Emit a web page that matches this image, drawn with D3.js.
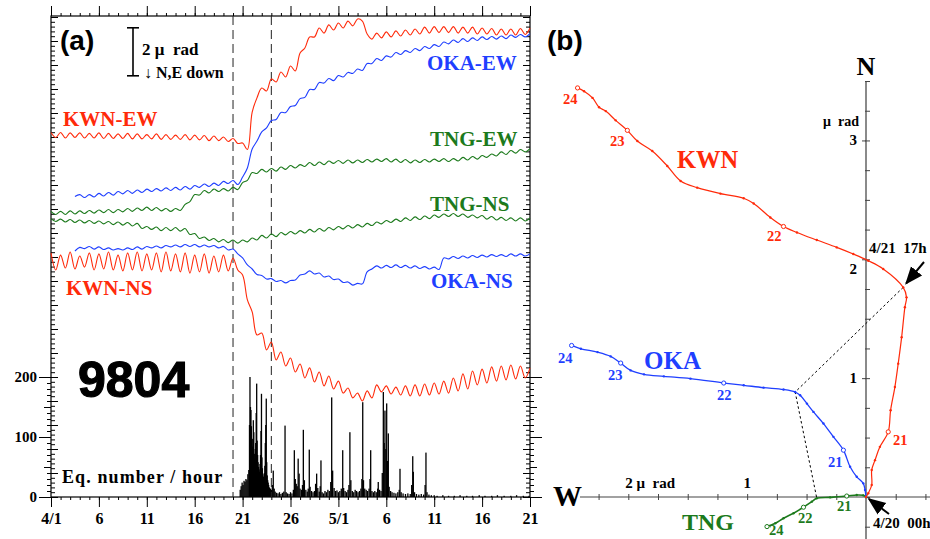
<!DOCTYPE html>
<html>
<head>
<meta charset="utf-8">
<script src="https://cdn.jsdelivr.net/npm/d3@7"></script>
<style>
  body { margin: 0; background: #fff; }
  svg { display: block; }
  text { white-space: pre; }
</style>
</head>
<body>
<svg id="chart" width="930" height="539"></svg>
<script>
// ---------- (a) tilt records, one sample every half day from 4/1 00h (μrad) ----------
const sampleStepDays = 0.5;

const kwnEW = [
  15.19, 14.98, 15.19, 14.96, 15.17, 14.98, 15.17, 14.96, 15.15, 14.96,
  15.17, 14.94, 15.15, 14.94, 15.13, 14.94, 15.15, 14.92, 15.13, 14.92,
  15.10, 14.92, 15.13, 14.90, 15.10, 14.90, 15.08, 14.90, 15.10, 14.88,
  15.08, 14.88, 15.06, 14.85, 15.04, 14.85, 15.00, 14.81, 14.94, 14.73,
  14.75, 14.48, 16.04, 16.63, 17.04, 16.92, 17.42, 17.29, 17.71, 17.50,
  17.96, 17.75, 18.50, 18.71, 19.17, 19.17, 19.54, 19.33, 19.67, 19.46,
  19.75, 19.54, 19.83, 19.63, 19.92, 19.83, 19.29, 19.08, 19.33, 19.13,
  19.38, 19.17, 19.42, 19.21, 19.46, 19.25, 19.50, 19.29, 19.58, 19.33,
  19.60, 19.35, 19.60, 19.35, 19.60, 19.33, 19.58, 19.33, 19.58, 19.29,
  19.54, 19.29, 19.52, 19.25, 19.50, 19.25, 19.50, 19.25, 19.52, 19.27,
  19.54
];

const kwnNS = [
  10.17, 9.46, 10.08, 9.54, 10.21, 9.50, 10.04, 9.58, 10.17, 9.46,
  10.13, 9.50, 10.21, 9.46, 10.08, 9.42, 10.17, 9.46, 10.21, 9.42,
  10.13, 9.46, 10.17, 9.38, 10.21, 9.42, 10.13, 9.38, 10.17, 9.33,
  10.08, 9.38, 10.13, 9.33, 10.04, 9.38, 10.08, 9.42, 9.96, 9.46,
  9.25, 8.21, 7.71, 6.75, 6.83, 6.13, 6.46, 5.71, 6.04, 5.46,
  5.79, 5.21, 5.54, 4.96, 5.38, 4.79, 5.21, 4.63, 5.04, 4.50,
  4.83, 4.33, 4.54, 4.13, 4.33, 4.00, 4.42, 4.13, 4.67, 4.38,
  4.63, 4.29, 4.58, 4.25, 4.63, 4.21, 4.67, 4.21, 4.71, 4.25,
  4.75, 4.29, 4.83, 4.33, 4.96, 4.42, 5.13, 4.50, 5.25, 4.67,
  5.33, 4.75, 5.42, 4.83, 5.46, 4.88, 5.50, 4.92, 5.46, 4.96,
  5.38
];

const okaEW = [
  null, null, null, null, null, 12.52, 12.60, 12.48, 12.60, 12.50,
  12.65, 12.54, 12.69, 12.58, 12.73, 12.63, 12.77, 12.65, 12.79, 12.69,
  12.83, 12.73, 12.85, 12.75, 12.88, 12.77, 12.90, 12.79, 12.94, 12.83,
  12.98, 12.90, 13.04, 12.94, 13.08, 12.98, 13.15, 13.06, 13.19, 13.02,
  13.33, 13.71, 14.50, 14.83, 15.21, 15.38, 15.69, 15.73, 16.02, 16.02,
  16.27, 16.31, 16.60, 16.65, 16.98, 16.98, 17.27, 17.25, 17.44, 17.35,
  17.56, 17.50, 17.69, 17.65, 17.83, 17.77, 18.06, 18.06, 18.27, 18.19,
  18.38, 18.33, 18.52, 18.44, 18.60, 18.52, 18.69, 18.60, 18.77, 18.69,
  18.85, 18.77, 18.96, 18.88, 19.04, 18.94, 19.10, 18.98, 19.13, 19.02,
  19.17, 19.06, 19.19, 19.08, 19.21, 19.10, 19.25, 19.15, 19.27, 19.17,
  19.31
];

const okaNS = [
  null, null, null, null, null, 10.25, 10.40, 10.35, 10.44, 10.33,
  10.42, 10.31, 10.38, 10.29, 10.35, 10.29, 10.38, 10.31, 10.42, 10.33,
  10.44, 10.38, 10.46, 10.38, 10.48, 10.42, 10.50, 10.42, 10.52, 10.44,
  10.52, 10.42, 10.50, 10.42, 10.48, 10.38, 10.44, 10.29, 10.33, 10.13,
  9.96, 9.67, 9.50, 9.27, 9.23, 9.08, 9.10, 8.98, 9.02, 8.92,
  9.02, 9.04, 9.25, 9.29, 9.42, 9.29, 9.33, 9.17, 9.21, 9.06,
  9.08, 8.94, 8.96, 8.83, 8.90, 8.88, 9.38, 9.50, 9.63, 9.54,
  9.65, 9.56, 9.67, 9.56, 9.65, 9.54, 9.63, 9.52, 9.60, 9.50,
  9.58, 9.48, 9.96, 9.92, 10.02, 9.94, 10.04, 9.96, 10.06, 9.98,
  10.08, 10.00, 10.10, 10.02, 10.10, 10.02, 10.13, 10.04, 10.13, 10.04,
  10.13
];

const tngEW = [
  11.90, 11.77, 11.90, 11.77, 11.92, 11.79, 11.92, 11.81, 11.94, 11.83,
  11.96, 11.85, 11.98, 11.85, 11.98, 11.88, 12.02, 11.90, 12.04, 11.94,
  12.08, 11.94, 12.06, 11.92, 12.02, 11.90, 12.02, 11.94, 12.19, 12.31,
  12.60, 12.58, 12.77, 12.67, 12.83, 12.73, 12.85, 12.75, 12.90, 12.81,
  13.10, 13.19, 13.52, 13.48, 13.65, 13.54, 13.69, 13.58, 13.75, 13.65,
  13.81, 13.71, 13.85, 13.77, 13.94, 13.81, 13.96, 13.85, 14.00, 13.90,
  14.02, 13.90, 14.04, 13.92, 14.04, 13.94, 14.06, 13.96, 14.08, 13.98,
  14.10, 13.96, 14.08, 13.94, 14.06, 13.92, 14.04, 13.94, 14.06, 13.96,
  14.08, 13.98, 14.10, 13.98, 14.10, 14.00, 14.15, 14.04, 14.19, 14.08,
  14.23, 14.15, 14.29, 14.21, 14.38, 14.27, 14.44, 14.33, 14.48, 14.38,
  14.52
];

const tngNS = [
  11.60, 11.48, 11.58, 11.46, 11.56, 11.44, 11.54, 11.42, 11.52, 11.40,
  11.50, 11.38, 11.48, 11.35, 11.46, 11.33, 11.44, 11.29, 11.40, 11.19,
  11.27, 11.15, 11.25, 11.10, 11.23, 11.10, 11.23, 11.08, 11.19, 10.94,
  10.98, 10.77, 10.83, 10.69, 10.77, 10.63, 10.73, 10.60, 10.71, 10.58,
  10.71, 10.63, 10.79, 10.71, 10.90, 10.79, 10.96, 10.85, 11.02, 10.92,
  11.06, 10.96, 11.10, 11.00, 11.15, 11.04, 11.19, 11.08, 11.23, 11.13,
  11.27, 11.17, 11.31, 11.21, 11.35, 11.25, 11.40, 11.31, 11.46, 11.38,
  11.52, 11.44, 11.58, 11.48, 11.63, 11.52, 11.67, 11.56, 11.71, 11.60,
  11.75, 11.65, 11.79, 11.69, 11.81, 11.69, 11.79, 11.65, 11.75, 11.63,
  11.73, 11.58, 11.69, 11.54, 11.65, 11.52, 11.63, 11.50, 11.63, 11.50,
  11.63
];

// earthquake count per hour (time in days since 4/1 00h)
const eqDay = [
  19.75, 19.85, 19.95, 20.05, 20.15, 20.25, 20.35, 20.45, 20.55, 20.65,
  20.72, 20.77, 20.82, 20.87, 20.92, 20.97, 21.02, 21.07, 21.12, 21.17,
  21.22, 21.27, 21.32, 21.37, 21.42, 21.47, 21.52, 21.57, 21.62, 21.67,
  21.72, 21.77, 21.82, 21.87, 21.92, 21.97, 22.02, 22.07, 22.12, 22.17,
  22.22, 22.27, 22.32, 22.37, 22.42, 22.47, 22.52, 22.57, 22.62, 22.67,
  22.72, 22.8, 22.9, 23.0, 23.1, 23.2, 23.3, 23.4, 23.55, 23.7,
  23.85, 24.0, 24.15, 24.3, 24.43, 24.55, 24.7, 24.85, 25.0, 25.15,
  25.3, 25.4, 25.5, 25.6, 25.7, 25.8, 25.9, 26.0, 26.15, 26.25,
  26.34, 26.45, 26.6, 26.75, 26.85, 26.96, 27.05, 27.2, 27.35, 27.5,
  27.62, 27.73, 27.85, 28.0, 28.1, 28.18, 28.3, 28.45, 28.6, 28.75,
  28.9, 29.05, 29.2, 29.3, 29.4, 29.55, 29.7, 29.85, 30.0, 30.15,
  30.3, 30.45, 30.55, 30.7, 30.85, 31.0, 31.1, 31.2, 31.3, 31.45,
  31.6, 31.75, 31.9, 32.05, 32.2, 32.35, 32.45, 32.54, 32.62, 32.75,
  32.9, 33.05, 33.2, 33.3, 33.37, 33.5, 33.65, 33.8, 33.95, 34.1,
  34.16, 34.3, 34.45, 34.58, 34.69, 34.78, 34.86, 34.95, 35.04, 35.12,
  35.21, 35.3, 35.45, 35.6, 35.8, 36.0, 36.2, 36.35, 36.43, 36.55,
  36.75, 37.0, 37.25, 37.5, 37.65, 37.76, 37.82, 37.95, 38.15, 38.4,
  38.65, 38.9, 39.05, 39.14, 39.25, 39.45, 39.7, 40.0, 40.3, 40.9,
  41.5, 42.1, 42.7, 43.4, 44.0, 44.7, 45.3, 46.0, 46.6, 47.3,
  48.0, 48.6, 49.3, 49.9
];
const eqCount = [
  12, 18, 24, 20, 27, 25, 30, 28, 38, 45,
  120, 200, 150, 145, 118, 96, 84, 97, 128, 108,
  72, 64, 80, 90, 140, 189, 94, 70, 58, 50,
  46, 42, 55, 70, 110, 172, 66, 48, 38, 34,
  30, 40, 52, 90, 120, 164, 58, 36, 28, 24,
  20, 16, 14, 12, 20, 44, 14, 9, 7, 6,
  8, 5, 7, 9, 119, 8, 6, 5, 8, 6,
  12, 78, 30, 22, 18, 64, 39, 14, 12, 20,
  112, 28, 12, 9, 14, 79, 17, 10, 8, 10,
  22, 39, 15, 9, 18, 61, 8, 6, 10, 8,
  12, 10, 25, 166, 44, 15, 10, 11, 8, 10,
  14, 78, 15, 10, 8, 12, 20, 108, 28, 10,
  8, 12, 10, 8, 10, 14, 30, 158, 28, 14,
  12, 10, 14, 30, 78, 10, 8, 10, 8, 14,
  25, 12, 10, 40, 175, 90, 144, 80, 156, 60,
  106, 17, 10, 8, 7, 6, 8, 12, 47, 8,
  6, 5, 6, 5, 20, 68, 42, 8, 5, 4,
  5, 4, 20, 74, 8, 4, 3, 3, 2, 3,
  2, 2, 3, 2, 2, 3, 2, 2, 3, 2,
  2, 3, 2, 2
];

const xTickDays = [0, 5, 10, 15, 20, 25, 30, 35, 40, 45, 50];
const xTickLabels = ["4/1", "6", "11", "16", "21", "26", "5/1", "6", "11", "16", "21"];
const countTicks = [0, 100, 200];
const hodogramSpanDays = [19, 23];   // 4/20 00h and 4/24 00h

// ---------- (b) tilt vector paths from 4/20 00h (μrad, westward / northward) ----------
const kwnWest = [0, -0.019, -0.048, -0.048, -0.076, -0.117, -0.187, -0.207, -0.243, -0.271,
  -0.300, -0.327, -0.341, -0.313, -0.145, -0.019, 0.107, 0.246, 0.414, 0.581,
  0.694, 0.805, 0.945, 1.029, 1.225, 1.420, 1.560, 1.672, 1.798, 1.924,
  2.008, 2.106, 2.190, 2.246, 2.301, 2.372, 2.427];
const kwnNorth = [0, 0.031, 0.101, 0.227, 0.310, 0.422, 0.548, 0.730, 0.925, 1.122,
  1.345, 1.596, 1.680, 1.764, 1.919, 1.988, 2.044, 2.100, 2.162, 2.226,
  2.276, 2.352, 2.469, 2.514, 2.553, 2.603, 2.659, 2.785, 2.911, 2.995,
  3.085, 3.169, 3.247, 3.279, 3.358, 3.414, 3.442];
const okaWest = [0, 0.008, 0.023, 0.078, 0.134, 0.190, 0.274, 0.358, 0.442, 0.497,
  0.554, 0.596, 0.694, 0.862, 1.029, 1.197, 1.477, 1.701, 1.868, 1.980,
  2.064, 2.148, 2.259, 2.399, 2.477];
const okaNorth = [0, 0.059, 0.115, 0.170, 0.254, 0.394, 0.506, 0.618, 0.716, 0.786,
  0.856, 0.883, 0.904, 0.920, 0.940, 0.959, 0.996, 1.015, 1.032, 1.065,
  1.127, 1.183, 1.219, 1.247, 1.275];
const tngWest = [0, 0.023, 0.078, 0.162, 0.302, 0.414, 0.456, 0.526, 0.610, 0.694, 0.763, 0.833];
const tngNorth = [0, 0.014, 0.017, 0.008, -0.003, -0.011, -0.039, -0.086, -0.137, -0.179, -0.221, -0.249];

// sample index of each day mark (21, 22, 23, 24) and of 4/21 17h
const dayMarks = ["21", "22", "23", "24"];
const kwnMarkIdx = [6, 20, 30, 36];
const okaMarkIdx = [5, 15, 20, 24];
const tngMarkIdx = [3, 7, null, 11];
const turnIdx = { kwn: 13, oka: 11, tng: 5 };

// ---------- drawing ----------
const SERIF = '"Liberation Serif","Times New Roman",serif';
const SANS = '"Liberation Sans",Arial,sans-serif';
const RED = "#ff2a0a", BLUE = "#1f3fff", GREEN = "#1c7a1c";

const svg = d3.select("#chart");
svg.append("defs").append("marker")
  .attr("id", "arrow").attr("viewBox", "0 0 10 10").attr("refX", 9).attr("refY", 5)
  .attr("markerWidth", 9).attr("markerHeight", 9).attr("orient", "auto")
  .append("path").attr("d", "M0,1 L10,5 L0,9 z").attr("fill", "#000");

function label(g, x, y, str, size, color, opts = {}) {
  return g.append("text").attr("x", x).attr("y", y).text(str)
    .attr("font-family", opts.family || SERIF).attr("font-weight", opts.weight || "bold")
    .attr("font-size", size).attr("fill", color || "#000")
    .attr("text-anchor", opts.anchor || "start")
    .attr("letter-spacing", opts.spacing || null)
    .attr("font-style", opts.style || null);
}

function tickGroup(g, axis, transform) {
  const t = g.append("g").attr("transform", transform).call(axis);
  t.select(".domain").remove();
  t.selectAll(".tick line").attr("stroke", "#000");
  return t;
}

// ----- panel (a) -----
const A = { left: 51, right: 530, top: 16, bottom: 497 };
const x = d3.scaleLinear().domain([0, 50]).range([A.left, A.right]);
const yTilt = d3.scaleLinear().domain([0, 20]).range([A.bottom, A.bottom - 480]);
const yCount = d3.scaleLinear().domain([0, 200]).range([A.bottom, A.bottom - 120]);

const ga = svg.append("g");
const allDays = d3.range(0, 51, 1);
const minorTilt = d3.range(0, 20.05, 0.2).map(v => +v.toFixed(1));
const majorTilt = d3.range(0, 21, 1);

// time axes: top and bottom
tickGroup(ga, d3.axisTop(x).tickValues(allDays).tickSize(3).tickFormat(""), `translate(0,${A.top})`);
tickGroup(ga, d3.axisTop(x).tickValues(xTickDays).tickSize(10).tickFormat(""), `translate(0,${A.top})`);
tickGroup(ga, d3.axisBottom(x).tickValues(allDays).tickSize(3).tickFormat(""), `translate(0,${A.bottom})`);
const bottomMajor = tickGroup(ga, d3.axisBottom(x).tickValues(xTickDays).tickSize(10).tickPadding(6)
  .tickFormat((d, i) => xTickLabels[i]), `translate(0,${A.bottom})`);
bottomMajor.selectAll("text").attr("font-family", SERIF).attr("font-weight", "bold")
  .attr("font-size", 16).attr("fill", "#000");

// tilt ticks, inward on both sides
tickGroup(ga, d3.axisRight(yTilt).tickValues(minorTilt).tickSize(4).tickFormat(""), `translate(${A.left},0)`);
tickGroup(ga, d3.axisRight(yTilt).tickValues(majorTilt).tickSize(7).tickFormat(""), `translate(${A.left},0)`);
tickGroup(ga, d3.axisLeft(yTilt).tickValues(minorTilt).tickSize(4).tickFormat(""), `translate(${A.right},0)`);
tickGroup(ga, d3.axisLeft(yTilt).tickValues(majorTilt).tickSize(7).tickFormat(""), `translate(${A.right},0)`);

// earthquake count ticks, outward on both sides
const cMinor = d3.range(0, 201, 10), cMid = [50, 150];
tickGroup(ga, d3.axisLeft(yCount).tickValues(cMinor).tickSize(4).tickFormat(""), `translate(${A.left},0)`);
tickGroup(ga, d3.axisLeft(yCount).tickValues(cMid).tickSize(7).tickFormat(""), `translate(${A.left},0)`);
const cLeft = tickGroup(ga, d3.axisLeft(yCount).tickValues(countTicks).tickSize(12).tickPadding(2), `translate(${A.left},0)`);
cLeft.selectAll("text").attr("font-family", SERIF).attr("font-weight", "bold")
  .attr("font-size", 15).attr("fill", "#000");
tickGroup(ga, d3.axisRight(yCount).tickValues(cMinor).tickSize(4).tickFormat(""), `translate(${A.right},0)`);
tickGroup(ga, d3.axisRight(yCount).tickValues(cMid).tickSize(7).tickFormat(""), `translate(${A.right},0)`);
tickGroup(ga, d3.axisRight(yCount).tickValues(countTicks).tickSize(12).tickFormat(""), `translate(${A.right},0)`);

// frame
ga.append("rect").attr("x", A.left).attr("y", A.top)
  .attr("width", A.right - A.left).attr("height", A.bottom - A.top)
  .attr("fill", "none").attr("stroke", "#000").attr("stroke-width", 1.2);

// histogram
ga.append("g").selectAll("rect").data(eqDay).join("rect")
  .attr("x", d => x(d) - 0.65).attr("width", 1.3)
  .attr("y", (d, i) => yCount(eqCount[i]))
  .attr("height", (d, i) => yCount(0) - yCount(eqCount[i]))
  .attr("fill", "#000");

// dashed lines at the start and end of the hodogram interval
ga.selectAll("line.span").data(hodogramSpanDays).join("line").attr("class", "span")
  .attr("x1", d => x(d)).attr("x2", d => x(d))
  .attr("y1", A.top).attr("y2", A.bottom)
  .attr("stroke", "#222").attr("stroke-width", 1).attr("stroke-dasharray", "9,5");

// tilt lines
const tiltLine = d3.line()
  .defined(v => v !== null)
  .x((v, i) => x(i * sampleStepDays))
  .y(v => yTilt(v))
  .curve(d3.curveCatmullRom.alpha(0.5));
[[tngNS, GREEN], [tngEW, GREEN], [okaNS, BLUE], [okaEW, BLUE], [kwnNS, RED], [kwnEW, RED]]
  .forEach(([vals, color]) => {
    ga.append("path").datum(vals).attr("d", tiltLine)
      .attr("fill", "none").attr("stroke", color).attr("stroke-width", 1.1);
  });

// series names
label(ga, 63, 126, "KWN-EW", 21, RED);
label(ga, 66, 295, "KWN-NS", 21, RED);
label(ga, 427, 70, "OKA-EW", 21, BLUE);
label(ga, 431, 288, "OKA-NS", 21, BLUE);
label(ga, 430, 146, "TNG-EW", 21, GREEN);
label(ga, 430, 211, "TNG-NS", 21, GREEN);

// panel letter, 2 μrad scale bar, event code, histogram caption
label(ga, 60, 50, "(a)", 28, "#000", { family: SANS });
const barTop = yTilt(19.55), barBot = yTilt(17.55);
ga.append("line").attr("x1", 133).attr("x2", 133).attr("y1", barTop).attr("y2", barBot)
  .attr("stroke", "#000").attr("stroke-width", 1.6);
[barTop, barBot].forEach(yy => ga.append("line").attr("x1", 127).attr("x2", 139)
  .attr("y1", yy).attr("y2", yy).attr("stroke", "#000").attr("stroke-width", 1.6));
label(ga, 142, 55, "2 μ  rad", 17, "#000");
label(ga, 144, 78, "↓ N,E down", 16, "#000");
label(ga, 78, 397, "9804", 50, "#000", { family: SANS }).attr("stroke", "#000").attr("stroke-width", 1.2);
label(ga, 62, 483, "Eq. number / hour", 18, "#000", { spacing: 1.1 });

// ----- panel (b) -----
const PX = 118.85;
const O = { x: 866, y: 497 };
const hx = d3.scaleLinear().domain([0, 1]).range([O.x, O.x - PX]);   // westward positive to the left
const hy = d3.scaleLinear().domain([0, 1]).range([O.y, O.y - PX]);   // northward positive upward
const gb = svg.append("g");

// axes through 4/20 00h
gb.append("line").attr("x1", O.x).attr("x2", O.x).attr("y1", hy(3.5)).attr("y2", 539)
  .attr("stroke", "#8a8a8a").attr("stroke-width", 2);
gb.append("line").attr("x1", 580).attr("x2", 930).attr("y1", O.y).attr("y2", O.y)
  .attr("stroke", "#444").attr("stroke-width", 1.2);
const nTicks = d3.range(-0.25, 3.51, 0.25);
const nMajor = [1, 2, 3];
tickGroup(gb, d3.axisRight(hy).tickValues(nTicks).tickSize(5).tickFormat(""), `translate(${O.x - 1},0)`);
tickGroup(gb, d3.axisLeft(hy).tickValues(nMajor).tickSize(4).tickFormat(""), `translate(${O.x},0)`);
const wTicks = d3.range(-0.5, 2.26, 0.25).filter(v => Math.abs(v) > 1e-6);
tickGroup(gb, d3.axisTop(hx).tickValues(wTicks).tickSize(3).tickFormat(""), `translate(0,${O.y})`);
tickGroup(gb, d3.axisBottom(hx).tickValues(wTicks).tickSize(3).tickFormat(""), `translate(0,${O.y})`);
gb.selectAll(".tick line").attr("stroke", "#444");

nMajor.forEach(v => label(gb, O.x - 9, hy(v) + 5 + (v === 2 ? 10 : 0), String(v), 15, "#000", { anchor: "end" }));
label(gb, O.x - 7, 126, "μ  rad", 14, "#000", { anchor: "end" });
label(gb, hx(2) - 3, 488, "2 μ  rad", 15, "#000");
label(gb, hx(1), 488, "1", 15, "#000", { anchor: "middle" });
label(gb, O.x, 75, "N", 26, "#000", { anchor: "middle" });
label(gb, 553, 506, "W", 29, "#000");
label(gb, 547, 50, "(b)", 28, "#000", { family: SANS });

// dotted link of the 4/21 17h positions
const turnPts = [
  [hx(kwnWest[turnIdx.kwn]), hy(kwnNorth[turnIdx.kwn])],
  [hx(okaWest[turnIdx.oka]), hy(okaNorth[turnIdx.oka])],
  [hx(tngWest[turnIdx.tng]), hy(tngNorth[turnIdx.tng])]
];
gb.append("path").attr("d", d3.line()(turnPts)).attr("fill", "none")
  .attr("stroke", "#000").attr("stroke-width", 1).attr("stroke-dasharray", "2.5,2.5");

// vector paths
const stations = [
  { w: tngWest, n: tngNorth, color: GREEN, marks: tngMarkIdx, width: 1.6 },
  { w: okaWest, n: okaNorth, color: BLUE, marks: okaMarkIdx, width: 1.3 },
  { w: kwnWest, n: kwnNorth, color: RED, marks: kwnMarkIdx, width: 1.2 }
];
stations.forEach(s => {
  const pts = s.w.map((w, i) => [hx(w), hy(s.n[i])]);
  gb.append("path").attr("d", d3.line().curve(d3.curveCatmullRom.alpha(0.5))(pts))
    .attr("fill", "none").attr("stroke", s.color).attr("stroke-width", s.width);
  gb.append("g").selectAll("circle").data(pts).join("circle")
    .attr("cx", d => d[0]).attr("cy", d => d[1]).attr("r", 1.2).attr("fill", s.color);
  gb.append("g").selectAll("circle").data(s.marks.filter(m => m !== null)).join("circle")
    .attr("cx", m => pts[m][0]).attr("cy", m => pts[m][1]).attr("r", 2.1)
    .attr("fill", "#fff").attr("stroke", s.color).attr("stroke-width", 1);
});

// day labels next to the marks
const dayLabelPos = {
  red:   [[893, 445], [767, 241], [610, 146], [563, 104]],
  blue:  [[828, 467], [717, 400], [608, 380], [558, 363]],
  green: [[837, 511], [798, 523], null, [769, 535]]
};
dayMarks.forEach((d, i) => {
  label(gb, dayLabelPos.red[i][0], dayLabelPos.red[i][1], d, 14.5, RED);
  label(gb, dayLabelPos.blue[i][0], dayLabelPos.blue[i][1], d, 14.5, BLUE);
  if (dayLabelPos.green[i]) label(gb, dayLabelPos.green[i][0], dayLabelPos.green[i][1], d, 14.5, GREEN);
});

label(gb, 677, 168, "KWN", 24.5, RED);
label(gb, 644, 369, "OKA", 25, BLUE);
label(gb, 682, 530, "TNG", 24, GREEN);

// event time annotations
label(gb, 869, 253, "4/21  17h", 15, "#000");
gb.append("line").attr("x1", 924).attr("y1", 262).attr("x2", turnPts[0][0] + 3).attr("y2", turnPts[0][1] - 4)
  .attr("stroke", "#000").attr("stroke-width", 2).attr("marker-end", "url(#arrow)");
label(gb, 873, 528, "4/20  00h", 15, "#000");
gb.append("line").attr("x1", 889).attr("y1", 514).attr("x2", O.x + 3).attr("y2", O.y + 2)
  .attr("stroke", "#000").attr("stroke-width", 2).attr("marker-end", "url(#arrow)");
</script>
</body>
</html>
